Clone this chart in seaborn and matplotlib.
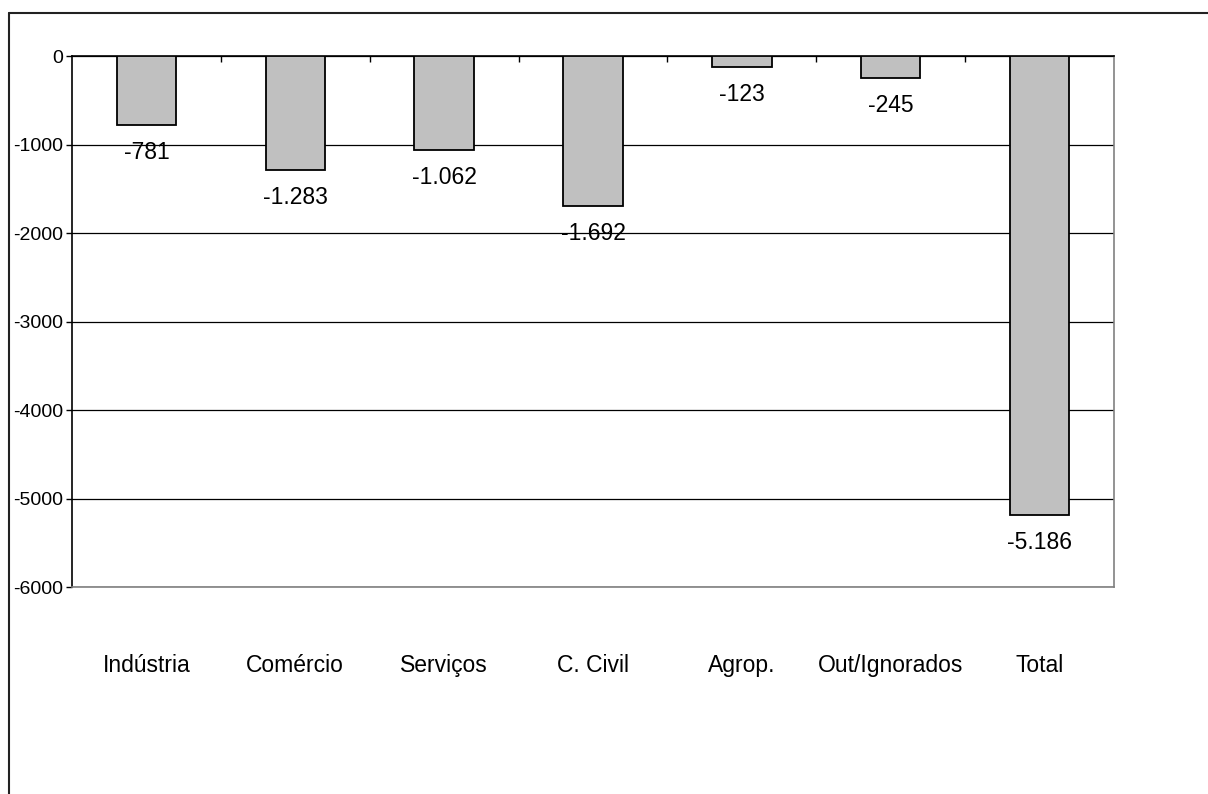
import numpy as np
import pandas as pd
import matplotlib
matplotlib.use("Agg")
import matplotlib.pyplot as plt
from matplotlib.lines import Line2D
import seaborn as sns

# data
categories = ['Indústria', 'Comércio', 'Serviços', 'C. Civil', 'Agrop.', 'Out/Ignorados', 'Total']
saldo = [-781, -1283, -1062, -1692, -123, -245, -5186]
yticks = [0, -1000, -2000, -3000, -4000, -5000, -6000]

sns.set_style('white')
plt.rcParams['font.family'] = ['Liberation Sans', 'DejaVu Sans']
plt.rcParams['axes.unicode_minus'] = False
plt.rcParams['text.color'] = 'black'
plt.rcParams['xtick.color'] = 'black'
plt.rcParams['ytick.color'] = 'black'

df = pd.DataFrame({'setor': categories, 'saldo': saldo})

fig = plt.figure(figsize=(12.08, 7.94), dpi=100)
ax = fig.add_axes([72/1208, 1 - 587/794, (1114 - 72)/1208, (587 - 56)/794])

sns.barplot(data=df, x='setor', y='saldo', color='#C0C0C0', saturation=1,
            edgecolor='black', linewidth=1.3, width=0.4, ax=ax, zorder=3)

ax.set_xlim(-0.5, len(categories) - 0.5)
ax.set_ylim(-6000, 0)
ax.set_yticks(yticks)
ax.set_yticklabels([str(t) for t in yticks], fontsize=14)
ax.set_xlabel('')
ax.set_ylabel('')

# horizontal gridlines
ax.yaxis.grid(True, color='black', linewidth=0.9)
ax.xaxis.grid(False)
ax.set_axisbelow(True)

# category axis sits at zero (top), tick marks pointing down
ax.set_xticks(range(len(categories)))
ax.set_xticks(np.arange(0.5, len(categories) - 1, 1), minor=True)
ax.tick_params(axis='x', which='both', bottom=False, top=True, direction='in',
               length=4, width=1, color='black', labelbottom=True, labelsize=16.5, pad=48)
ax.tick_params(axis='y', left=True, direction='out', length=4.5, width=1, color='black', pad=2)

for side in ['top', 'left']:
    ax.spines[side].set_color('black')
    ax.spines[side].set_linewidth(1.2)
for side in ['right', 'bottom']:
    ax.spines[side].set_color('#808080')
    ax.spines[side].set_linewidth(1.2)

# value labels below the bars
for i, v in enumerate(saldo):
    txt = f'{v:,}'.replace(',', '.')
    ax.annotate(txt, (i, v), xytext=(0, -20), textcoords='offset points',
                ha='center', va='center', fontsize=16.5, color='black', zorder=4)

# outer chart frame (only top and left visible)
fig.add_artist(Line2D([9/1208, 1], [1 - 13/794, 1 - 13/794], color='#222222', lw=1.5,
                      transform=fig.transFigure))
fig.add_artist(Line2D([9/1208, 9/1208], [0, 1 - 13/794], color='#222222', lw=1.5,
                      transform=fig.transFigure))

fig.savefig('out.png', dpi=100, facecolor='white')
